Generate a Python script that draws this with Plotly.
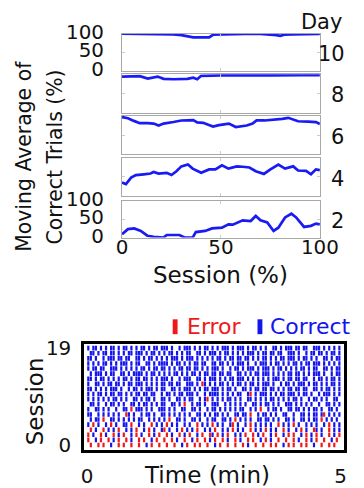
import plotly.graph_objects as go

FONT = "DejaVu Sans"
INK = "#111111"
LINE_BLUE = "#1a1af5"
TICK_BLUE = "#1414ee"
TICK_RED = "#f01818"
FRAME_GRAY = "#a8a8a8"

# Positions below are given on a 364 x 488 design grid and converted to
# figure fractions by fx / fy.
W, H = 364, 488
S = W / 381.0                  # design-to-figure scale
OFF = (H - S * H) / 2.0        # vertical offset of the design grid
RIGHT_LIMIT = W * S            # rightmost usable design x

# Moving average of correct trials (%) across the session (%), one panel per day
day10_x = [0, 12, 24, 26, 30, 33, 36, 40, 44, 46, 50, 58, 62, 70, 76, 78, 80, 82, 86, 92, 100]
day10_y = [100, 100, 100, 98, 96, 93, 90, 90, 90, 97, 98, 98, 99, 99, 98, 96, 94, 97, 98, 99, 99]

day8_x = [0, 4, 9, 13, 16, 18, 21, 26, 33, 36, 38, 40, 50, 60, 66, 75, 82, 90, 100]
day8_y = [94, 95, 95, 89, 93, 94, 88, 87, 88, 91, 87, 96, 97, 98, 97, 97, 98, 98, 98]

day6_x = [0, 3, 6, 9, 13, 16, 18.5, 21, 26, 30, 36, 38, 41, 44, 46, 49, 52, 54, 57.5, 60,
          63, 66, 68, 72, 77, 81, 84, 86, 89, 94, 98, 100]
day6_y = [97, 94, 87, 81, 81, 80, 75, 80, 84, 88, 89, 83, 82, 76, 72, 76, 78, 80, 71, 73,
          75, 80, 88, 88, 90, 92, 95, 92, 86, 85, 84, 79]

day4_x = [0, 2, 4.6, 7, 11, 14.4, 16, 18.5, 22.6, 25, 27.5, 30, 33.3, 35.7, 40, 44, 47.2,
          50.5, 53.8, 58, 61, 64.4, 67.6, 71.7, 75, 79, 82.4, 86.5, 89, 93, 95.5, 98, 100]
day4_y = [35, 31, 48, 55, 57, 59, 63, 59, 61, 55, 65, 78, 83, 72, 61, 70, 70,
          81, 72, 78, 77, 75, 65, 58, 70, 83, 72, 78, 67, 66, 57, 70, 68]

day2_x = [0, 3, 6.2, 9.5, 12.8, 16, 21, 22.6, 29, 31.6, 35.7, 37.3, 42, 45.5, 50.5, 53.8,
          56, 61, 65, 67.6, 70, 73.4, 76.6, 79, 82.4, 85.6, 88, 92, 95.5, 98, 100]
day2_y = [9, 23, 25, 18, 5, 2, 0, 7, 7, 0, 0, 15, 18, 25, 27, 36,
          35, 47, 45, 59, 47, 41, 18, 27, 55, 65, 55, 29, 32, 38, 36]

day_labels = ["10", "8", "6", "4", "2"]
day_series = [(day10_x, day10_y), (day8_x, day8_y), (day6_x, day6_y),
              (day4_x, day4_y), (day2_x, day2_y)]
pct_ticks = [0, 50, 100]

# Trial raster: one string per session (session 0 first), one character per 3 s bin.
# 'c' = correct trial, 'e' = error trial, '.' = no trial in that bin.
BIN_SECONDS = 3
session_rows = [
    ".e..e.e..c" "..e.e..e.." "e..c.e..e." ".e..e..c.e" "..e.e..e.." "c.e..e..e." ".e.c..e..e" "..e.e..c.e" ".e..e.e..c" "..e..e.e..",
    "e..c.e..e." "c.e..e.c.." "e.e..c.e.." "e..e.c..e." ".c.e..e.c." "e..e.c..e." "c..e.e..c." "e.c..e..e." ".e.c..e.c." "e..e..c.e.",
    "e.c..e.c.." "e.c.e..c.e" ".c..e.c.e." ".e.c..e.c." "e..c.e..ec" ".e.c.e..c." "c.e..e.c.e" "..c.e..c.e" ".e..c.e.c." "e.c..e.c.e",
    ".e.c..e.c." "c.e..c.c.e" "..c.e.c..c" "e.c..c.e.c" ".c.e..c.c." "e..c.c.e.c" ".c..e.c.c." "e.c.c..e.c" "..c.e.c..e" "c.c..e.c.c",
    "c.e.c..c.e" ".c..cc.e.." "c.c..e.c.c" ".e.c.c..c." "c..e.c.c.e" ".c.c..ce.c" "..c.e.c.c." "c.c..e.c.c" ".e.c..c.c." "c..c.e.c.c",
    ".c.cc.e..c" "c.c.c.c.c." "cc..c.c.c." "c.e..cc.c." ".cc.c..c.c" "c..cc.c.e." "c.c.c..cc." "cc.c.c..cc" ".c..cc.c.c" "c.e.c.c.c.",
    "cc..c.c.c." "c.c..ec.c." ".c.cc.c..c" "c.c.c.c.c." "c..cc.c.c." "cc.c.c..cc" ".cc.e..c.c" "c.c.c..cc." ".c..cc.c.c" "c.ce.c.c.c",
    "c..cc.c.c." ".c..cc.e.c" "cc.c.c..cc" "c.c.c..cc." ".cc.c..c.c" "c.c.c.c.c." "cc..c.c.e." ".c.cc.c..c" "c.cc.c.c.c" "c.c..cc.c.",
    ".cc.c..c.c" "c.c.c..cc." "c.cc.c.c.c" "c..cc.c.e." ".c.cc.c..c" "cc..c.c.c." "c.c..cc.c." "cc.c.c..cc" "c.c.c.c.c." ".c..cc.c.c",
    "c.c.c.c.c." "cc.c.c..cc" ".c.cc.c..c" "c.c..cc.c." "cc..c.ce.c" ".c.c.cc.c." "c..cc.c.c." "c.cc.c.c.c" ".cc.c..c.c" "c.c.c..cc.",
    "c.c.cc.c.c" "c.cc.c.c.c" "c.cc.cc..c" ".cc.c.cc.c" "cc.c..c.cc" "cc.c.c.c.c" "c..ce.c.cc" "c.c.c.cc.c" "cc.c.cc.c." ".c.ccc.c.c",
    "cc.c.c.c.c" "cc.c..c.cc" ".c.ccc.c.c" "c..cc.c.cc" "c.c.c.cc.c" "cc.c.cc.c." ".cc.c.cc.c" "c.cc.c.c.c" "c.cc.cc..c" "c.c.cc.c.c",
    "c..cc.c.cc" ".cc.c.cc.c" "cc.c.c.c.c" "c.cc.cc..c" "cc.c.ec.c." "c.cc.c.c.c" "c.c.cc.c.c" "cc.c..c.cc" ".c.ccc.c.c" "c.c.c.cc.c",
    "cc.c.cc.c." "c.c.cc.c.c" "c.cc.c.c.c" "cc.c..c.cc" "c..cc.c.cc" "c.c.c.cc.c" "cc.c.c.c.c" ".c.ccc.c.c" "c.cc.cc..c" ".cc.c.cc.c",
    ".c.ccc.c.c" "c..cc.c.cc" "cc.c.cc.c." "c.c.cc.c.c" ".cc.c.cc.c" "c.cc.cc..c" "c.c.c.cc.c" "cc.c.c.c.c" "c.cc.c.c.c" "cc.c..c.cc",
    "c.cc.cc..c" "cc.c.c.c.c" ".cc.c.cc.c" "c.c.c.cc.c" "c.cc.c.c.c" "cc.c..c.cc" ".c.ccc.c.c" "cc.c.cc.c." "c.c.cc.c.c" "c..cc.c.cc",
    "c.c.c.cc.c" ".c.ccc.c.c" "c..cc.c.cc" "cc.c.cc.c." "c.cc.cc..c" "c.cc.c.c.c" "cc.c..c.cc" "c.c.cc.c.c" ".cc.c.cc.c" "cc.c.c.c.c",
    "cc.c..c.cc" "c.cc.cc..c" "c.c.cc.c.c" ".c.ccc.c.c" "cc.c.c.c.c" ".cc.c.cc.c" "c.cc.c.c.c" "c.c.c.cc.c" "cc.c.cc.c." "c..cc.c.cc",
    ".cc.c.cc.c" "c.c.c.cc.c" "cc.c.cc.c." "c.cc.c.c.c" "c..cc.c.cc" "c.c.cc.c.c" ".c.ccc.c.c" "c.cc.cc..c" "cc.c..c.cc" ".cc.c.cc.c",
    "c.cc.c.c.c" "c.c.cc.c.c" ".cc.c.cc.c" "cc.c..c.cc" "c.c.c.cc.c" ".c.ccc.c.c" "cc.c.cc.c." "c..cc.c.cc" "c.cc.cc..c" "cc.c.c.c.c",
]
time_ticks = [0, 5]
session_ticks = [0, 19]


def fx(x):
    return (x / S) / W


def fy(y):
    return 1 - ((y - OFF) / S) / H


def pz(v):
    return v / S


def dom_x(left, right):
    return [fx(left), fx(right)]


def dom_y(top, bottom):
    return [fy(bottom), fy(top)]


panel_px = [(31.7, 69.5), (72.7, 111.5), (114.7, 153.5), (157.3, 195.3), (200.5, 237.5)]
panel_left, panel_right = 119, 322
raster_left, raster_right = 80, 346.4

fig = go.Figure()
layout = dict(
    width=W, height=H,
    margin=dict(l=0, r=0, t=0, b=0, pad=0),
    paper_bgcolor="white", plot_bgcolor="white",
    showlegend=False,
    font=dict(family=FONT, size=pz(20), color=INK),
)

axis_font = dict(family=FONT, size=pz(19), color=INK)

for i, ((xs, ys), (top, bottom)) in enumerate(zip(day_series, panel_px)):
    n = "" if i == 0 else str(i + 1)
    fig.add_trace(go.Scatter(
        x=xs, y=ys, mode="lines", xaxis="x" + n, yaxis="y" + n,
        line=dict(color=LINE_BLUE, width=pz(2.6)),
        hoverinfo="skip",
    ))
    show_y = i in (0, 4)
    show_x = i == 4
    layout["xaxis" + n] = dict(
        domain=dom_x(panel_left, panel_right), anchor="y" + n,
        range=[0, 100], tickvals=pct_ticks, showticklabels=show_x,
        showline=True, mirror="ticks", linecolor=FRAME_GRAY, linewidth=1,
        ticks="inside", ticklen=3, tickcolor="#cccccc",
        showgrid=False, zeroline=False, tickfont=axis_font,
        ticklabelstandoff=-8,
    )
    layout["yaxis" + n] = dict(
        domain=dom_y(top, bottom), anchor="x" + n,
        range=[0, 100], tickvals=pct_ticks, showticklabels=show_y,
        showline=True, mirror="ticks", linecolor=FRAME_GRAY, linewidth=1,
        ticks="inside", ticklen=3, tickcolor="#cccccc",
        showgrid=False, zeroline=False, tickfont=axis_font,
        ticklabelstandoff=13, ticklabelshift=-2,
    )

# Raster of trials: short vertical strokes per trial, red = error, blue = correct
err_x, err_y, cor_x, cor_y = [], [], [], []
half = 0.45
for s, row in enumerate(session_rows):
    for k, ch in enumerate(row):
        if ch == ".":
            continue
        t = (k + 0.5) * BIN_SECONDS / 60.0
        xs_, ys_ = (err_x, err_y) if ch == "e" else (cor_x, cor_y)
        xs_ += [t, t, None]
        ys_ += [s - half, s + half, None]

for xs_, ys_, col in ((cor_x, cor_y, TICK_BLUE), (err_x, err_y, TICK_RED)):
    fig.add_trace(go.Scatter(
        x=xs_, y=ys_, mode="lines", xaxis="x6", yaxis="y6",
        line=dict(color=col, width=pz(2.1)), connectgaps=False, hoverinfo="skip",
    ))

layout["xaxis6"] = dict(
    domain=dom_x(raster_left, raster_right), anchor="y6", range=[-0.06, 5.06],
    tickvals=time_ticks, ticks="", showline=True, mirror=True,
    linecolor="black", linewidth=pz(2.5), showgrid=False, zeroline=False,
    tickfont=axis_font, ticklabelstandoff=6,
)
layout["yaxis6"] = dict(
    domain=dom_y(345, 452), anchor="x6", range=[-1.0, 19.8],
    tickvals=session_ticks, ticks="", showline=True, mirror=True,
    linecolor="black", linewidth=pz(2.5), showgrid=False, zeroline=False,
    tickfont=axis_font, ticklabelstandoff=6,
)


def note(text, x, y, size=20, color=INK, angle=0, xanchor="center"):
    return dict(
        text=text, x=fx(x), y=fy(y), xref="paper", yref="paper",
        showarrow=False, textangle=angle, xanchor=xanchor, yanchor="middle",
        font=dict(family=FONT, size=pz(size), color=color),
    )


annotations = [
    note("Day", 347, 20, size=20, xanchor="right"),
    note("Moving Average of", 18.5, 156, size=19.5, angle=-90),
    note("Correct Trials (%)", 50, 156, size=19.5, angle=-90),
    note("Session (%)", 220, 275, size=22),
    note("Time (min)", 206, 477, size=22),
    note("Session", 29.5, 403, size=22, angle=-90),
    note("Error", 184, 327.5, size=21, color=TICK_RED, xanchor="left"),
    note("Correct", 269, 327.5, size=21, color=TICK_BLUE, xanchor="left"),
]
# Day numbers to the right of each panel, kept inside the usable width
for label, (top, bottom) in zip(day_labels, panel_px):
    half_w = 0.64 * 20 * len(label) / 2
    cx = min(343, RIGHT_LIMIT - 1 - half_w)
    annotations.append(note(label, cx, (top + bottom) / 2 + 2, size=20))

layout["annotations"] = annotations

# Legend swatches next to the Error / Correct labels
layout["shapes"] = [
    dict(type="rect", xref="paper", yref="paper", line=dict(width=0),
         x0=fx(171), x1=fx(176), y0=fy(335), y1=fy(320), fillcolor=TICK_RED),
    dict(type="rect", xref="paper", yref="paper", line=dict(width=0),
         x0=fx(258), x1=fx(263), y0=fy(335), y1=fy(320), fillcolor=TICK_BLUE),
]

fig.update_layout(**layout)
fig.write_html("out.html")
